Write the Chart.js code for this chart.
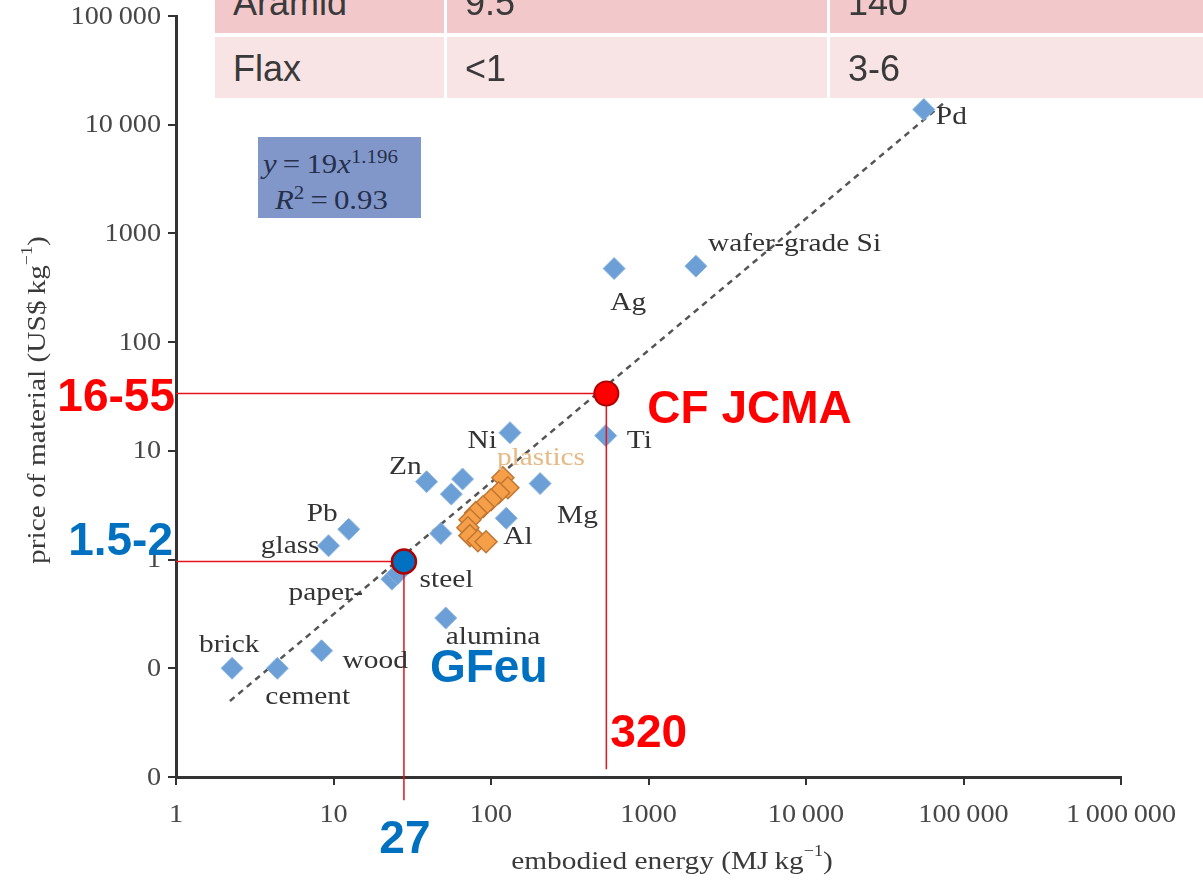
<!DOCTYPE html>
<html>
<head>
<meta charset="utf-8">
<script src="https://cdn.jsdelivr.net/npm/chart.js@4.4.1/dist/chart.umd.min.js"></script>
<style>
  body { margin: 0; background: #fff; }
  #wrap { position: relative; width: 1203px; height: 887px; overflow: hidden; }
  #chart { position: absolute; left: 0; top: 0; }
  .cell { position: absolute; box-sizing: border-box; padding-left: 18px; font-family: 'Liberation Sans', Arial, sans-serif; font-size: 36px; color: #3a3a3a; white-space: nowrap; }
  .eq { position: absolute; left: 258px; top: 137px; width: 163px; height: 81px; background: #8297c9; font-family: 'Liberation Serif', serif; font-size: 28px; color: #26304c; }
  .eq div { position: absolute; white-space: nowrap; transform: scaleX(1.1); transform-origin: left; }
  .eq i { font-style: italic; }
  .eq sup { font-size: 19px; }
</style>
</head>
<body>
<div id="wrap">
  <canvas id="chart" width="1203" height="887"></canvas>
  <div id="table"></div>
  <div class="eq">
    <div style="left:5px; top:9px;"><i>y</i>&#8201;=&#8201;19<i>x</i><sup>1.196</sup></div>
    <div style="left:17px; top:45px;"><i>R</i><sup>2</sup>&#8201;=&#8201;0.93</div>
  </div>
</div>
<script>
// materials (blue diamonds)
const names  = ['Pd', 'wafer-grade Si', 'Ag', 'Ti', 'Ni', 'Mg', 'Al', 'Zn', '', '', '', 'Pb', 'glass', 'paper', 'steel', 'alumina', 'wood', 'cement', 'brick'];
const energy = [56000, 2000, 605, 535, 132, 205, 125, 39, 66, 56, 48, 12.5, 9.3, 23.5, 25.5, 51.6, 8.4, 4.4, 2.27];
const price  = [13800, 500, 475, 13.8, 14.7, 5.0, 2.4, 5.2, 5.5, 4.0, 1.74, 1.9, 1.34, 0.66, 0.74, 0.29, 0.145, 0.1, 0.1];

// plastics (orange diamonds)
const plasticsEnergy = [119, 128, 112, 100, 89, 80, 73.5, 71.3, 73.5, 82.6, 93];
const plasticsPrice  = [5.66, 4.58, 4.12, 3.55, 3.06, 2.70, 2.32, 1.96, 1.66, 1.49, 1.46];

// fitted line y = 19x^1.196 (end points as drawn)
const fitEnergy = [2.2, 78000];
const fitPrice  = [0.05, 16600];

// highlighted composites
const cfPoint = { x: 540, y: 33.7 };
const gfPoint = { x: 28, y: 0.96 };
const cfTexts = ['16-55', 'CF JCMA', '320'];
const gfTexts = ['1.5-2', 'GFeu', '27'];

const xTicks = [1, 10, 100, 1000, 10000, 100000, 1000000];
const xTickLabels = ['1', '10', '100', '1000', '10\u2009000', '100\u2009000', '1\u2009000\u2009000'];
const yTicks = [0.01, 0.1, 1, 10, 100, 1000, 10000, 100000];
const yTickLabels = ['0', '0', '1', '10', '100', '1000', '10\u2009000', '100\u2009000'];

const tableRows = [['Aramid', '9.5', '140'], ['Flax', '<1', '3-6']];

// table overlay
const colLeft = [215, 447, 830], colRight = [444, 827, 1203];
const rowTop = [-22, 37], rowBottom = [33, 98], rowColor = ['#f3c8ca', '#f9e4e5'], rowShift = [-3, 1];
document.getElementById('table').innerHTML = tableRows.map((row, r) => row.map((txt, c) => `
  <div class="cell" style="left:${colLeft[c]}px; top:${rowTop[r]}px; width:${colRight[c] - colLeft[c]}px; height:${rowBottom[r] - rowTop[r]}px; background:${rowColor[r]}; line-height:${rowBottom[r] - rowTop[r] + 2 * rowShift[r]}px;">${txt.replace('<', '&lt;')}</div>`).join('')).join('');

const labelPos = {
  'Pd': [12, 8, 'left'], 'wafer-grade Si': [12, -22, 'left'], 'Ag': [14, 35, 'center'],
  'Ti': [21, 6, 'left'], 'Ni': [-13, 9, 'right'], 'Zn': [-5, -15, 'right'],
  'Mg': [17, 33, 'left'], 'Al': [-3, 19, 'left'], 'Pb': [-11, -15, 'right'],
  'glass': [-9, 0, 'right'], 'paper': [-29, 14, 'right'], 'steel': [22, 6, 'left'],
  'alumina': [0, 19, 'left'], 'wood': [21, 10, 'left'], 'cement': [-12, 29, 'left'],
  'brick': [-33, -23, 'left']
};

const SX = 1.13; // the scanned figure is a little wider than the font
function wideText(ctx, t, x, y, align) {
  const w = ctx.measureText(t).width * SX;
  const x0 = align === 'center' ? x - w / 2 : align === 'right' ? x - w : x;
  ctx.save();
  ctx.translate(x0, y);
  ctx.scale(SX, 1);
  ctx.textAlign = 'left';
  ctx.fillText(t, 0, 0);
  ctx.restore();
}

function drawRich(ctx, parts, x, y) {
  const w = parts.reduce((s, p) => { ctx.font = p.font; return s + ctx.measureText(p.t).width; }, 0) * SX;
  ctx.save();
  ctx.translate(x - w / 2, y);
  ctx.scale(SX, 1);
  let cx = 0;
  parts.forEach(p => {
    ctx.font = p.font;
    ctx.fillText(p.t, cx, p.dy || 0);
    cx += ctx.measureText(p.t).width;
  });
  ctx.restore();
}

const textPlugin = {
  id: 'texts',
  afterDatasetsDraw(chart) {
    const ctx = chart.ctx, xs = chart.scales.x, ys = chart.scales.y, area = chart.chartArea;
    ctx.save();
    ctx.textBaseline = 'middle';

    // tick labels
    ctx.fillStyle = '#474747';
    ctx.font = '25px "Liberation Serif"';
    xTicks.forEach((v, i) => wideText(ctx, xTickLabels[i], xs.getPixelForValue(v), area.bottom + 38, 'center'));
    yTicks.forEach((v, i) => wideText(ctx, yTickLabels[i], area.left - 15, ys.getPixelForValue(v) + 1, 'right'));

    // material labels
    ctx.fillStyle = '#333';
    ctx.font = '26px "Liberation Serif"';
    names.forEach((n, i) => {
      if (!n) return;
      const [dx, dy, align] = labelPos[n];
      wideText(ctx, n === 'paper' ? 'paper-' : n, xs.getPixelForValue(energy[i]) + dx, ys.getPixelForValue(price[i]) + dy, align);
    });
    ctx.fillStyle = '#e6b985';
    wideText(ctx, 'plastics', xs.getPixelForValue(plasticsEnergy[0]) - 6, ys.getPixelForValue(plasticsPrice[0]) - 20, 'left');

    // axis titles
    ctx.fillStyle = '#3a3a3a';
    ctx.textAlign = 'left';
    const reg = '26px "Liberation Serif"', sup = '16px "Liberation Serif"';
    drawRich(ctx, [{ t: 'embodied energy (MJ\u2009kg', font: reg }, { t: '\u22121', font: sup, dy: -10 }, { t: ')', font: reg }], 672, 862);
    ctx.save();
    ctx.translate(38, 400);
    ctx.rotate(-Math.PI / 2);
    drawRich(ctx, [{ t: 'price of material (US$\u2009kg', font: reg }, { t: '\u22121', font: sup, dy: -10 }, { t: ')', font: reg }], 0, 0);
    ctx.restore();

    // composite annotations
    ctx.font = 'bold 46px "Liberation Sans"';
    const cx = xs.getPixelForValue(cfPoint.x), cy = ys.getPixelForValue(cfPoint.y);
    const gx = xs.getPixelForValue(gfPoint.x), gy = ys.getPixelForValue(gfPoint.y);
    ctx.fillStyle = '#ff0000';
    ctx.textAlign = 'right';
    ctx.fillText(cfTexts[0], area.left - 1, cy + 5);
    ctx.textAlign = 'left';
    ctx.fillText(cfTexts[1], cx + 41, cy + 17);
    ctx.fillText(cfTexts[2], cx + 4, area.bottom - 43);
    ctx.fillStyle = '#0070c0';
    ctx.textAlign = 'right';
    ctx.fillText(gfTexts[0], area.left - 3, gy - 19);
    ctx.textAlign = 'left';
    ctx.fillText(gfTexts[1], gx + 26, area.bottom - 108);
    ctx.textAlign = 'center';
    ctx.fillText(gfTexts[2], gx + 1, area.bottom + 63);
    ctx.restore();
  }
};

const toXY = (xa, ya) => xa.map((x, i) => ({ x, y: ya[i] }));

new Chart(document.getElementById('chart'), {
  type: 'scatter',
  data: {
    datasets: [
      { data: [cfPoint], pointStyle: 'circle', pointRadius: 12, backgroundColor: '#ff0000', borderColor: '#b00000', borderWidth: 2 },
      { data: [gfPoint], pointStyle: 'circle', pointRadius: 12, backgroundColor: '#0070c0', borderColor: '#b00000', borderWidth: 2.5 },
      { data: [{ x: 1, y: cfPoint.y }, cfPoint, { x: cfPoint.x, y: 0.0118 }], showLine: true, pointRadius: 0, borderColor: '#e5141c', borderWidth: 1.5, clip: false },
      { data: [{ x: 1, y: gfPoint.y }, gfPoint, { x: gfPoint.x, y: 0.0061 }], showLine: true, pointRadius: 0, borderColor: '#e5141c', borderWidth: 1.5, clip: false },
      { data: toXY(plasticsEnergy, plasticsPrice), pointStyle: 'rectRot', pointRadius: 11, backgroundColor: '#f5a049', borderColor: '#c27632', borderWidth: 1.5 },
      { data: toXY(energy, price), pointStyle: 'rectRot', pointRadius: 11, backgroundColor: '#6b9fd6', borderColor: '#8cb6e2', borderWidth: 1 },
      { data: toXY(fitEnergy, fitPrice), showLine: true, pointRadius: 0, borderColor: '#555', borderWidth: 2.5, borderDash: [6, 5] }
    ]
  },
  options: {
    responsive: false,
    animation: false,
    devicePixelRatio: 1,
    layout: { padding: { top: 16, right: 82, left: 0, bottom: 0 } },
    plugins: { legend: { display: false }, tooltip: { enabled: false } },
    scales: {
      x: {
        type: 'logarithmic', min: 1, max: 1000000,
        afterBuildTicks: s => { s.ticks = xTicks.map(v => ({ value: v })); },
        afterFit: s => { s.height = 110; },
        ticks: { display: false },
        grid: { drawOnChartArea: false, tickLength: 8, color: '#333', lineWidth: 2 },
        border: { color: '#333', width: 3 }
      },
      y: {
        type: 'logarithmic', min: 0.01, max: 100000,
        afterBuildTicks: s => { s.ticks = yTicks.map(v => ({ value: v })); },
        afterFit: s => { s.width = 176; },
        ticks: { display: false },
        grid: { drawOnChartArea: false, tickLength: 8, color: '#333', lineWidth: 2 },
        border: { color: '#333', width: 3 }
      }
    }
  },
  plugins: [textPlugin]
});
</script>
</body>
</html>
